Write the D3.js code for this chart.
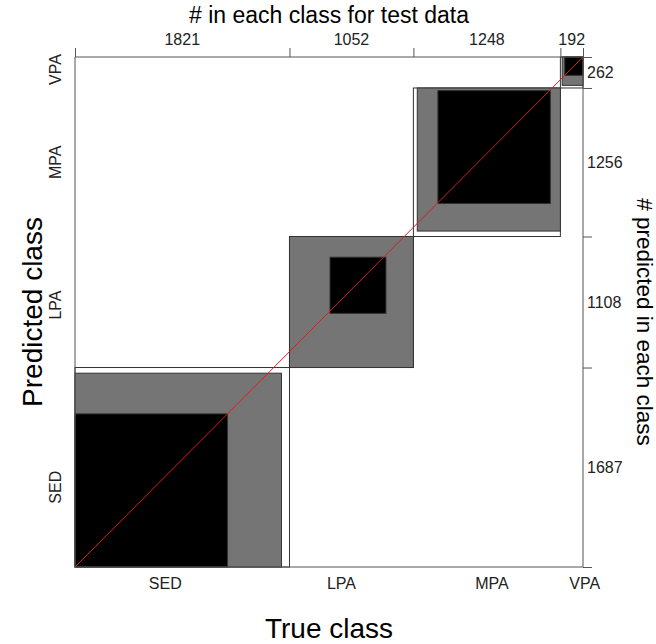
<!DOCTYPE html>
<html>
<head>
<meta charset="utf-8">
<script src="https://cdn.jsdelivr.net/npm/d3@7"></script>
<style>
  body { margin: 0; background: #fff; }
  svg { font-family: "Liberation Sans", Arial, sans-serif; }
</style>
</head>
<body>
<div id="chart"></div>
<script>
// classes, ordered SED -> VPA (left->right, bottom->top)
const classes = ['SED', 'LPA', 'MPA', 'VPA']

// confusion counts, rows = predicted class, cols = true class
const predSED = [1295, 344, 33, 15]
const predLPA = [458, 475, 175, 0]
const predMPA = [46, 233, 955, 22]
const predVPA = [22, 0, 85, 155]
const counts = [predSED, predLPA, predMPA, predVPA]

const colTotals = [1821, 1052, 1248, 192]   // # in each class for test data
const rowTotals = [1687, 1108, 1256, 262]   // # predicted in each class

// label nudges (px) to follow the original layout
const xLabelShift = [-17, -10, 5, 13]
const yLabelShift = [20, 3, 0, -3]

const width = 656, height = 644
const margin = {top: 57, right: 73, bottom: 77, left: 75}
const total = d3.sum(colTotals)

const svg = d3.select('#chart').append('svg')
  .attr('width', width).attr('height', height)

const x = d3.scaleLinear().domain([0, total]).range([margin.left, width - margin.right])
const y = d3.scaleLinear().domain([0, total]).range([height - margin.bottom, margin.top])

const colStart = [0, ...d3.cumsum(colTotals)]
const rowStart = [0, ...d3.cumsum(rowTotals)]

// build the rectangles of the agreement plot
const rects = []
classes.forEach((c, i) => {
  rects.push({x0: colStart[i], w: colTotals[i], y0: rowStart[i], h: rowTotals[i], fill: '#fff'})
  // partial agreement: neighbours one step away
  const lo = Math.max(0, i - 1), hi = Math.min(classes.length - 1, i + 1)
  let xs = 0, ys = 0, w = 0, h = 0
  for (let k = 0; k < lo; k++) { xs += counts[k][i]; ys += counts[i][k] }
  for (let k = lo; k <= hi; k++) { w += counts[k][i]; h += counts[i][k] }
  rects.push({x0: colStart[i] + xs, w: w, y0: rowStart[i] + ys, h: h, fill: '#757575'})
  // exact agreement
  let xe = 0, ye = 0
  for (let k = 0; k < i; k++) { xe += counts[k][i]; ye += counts[i][k] }
  rects.push({x0: colStart[i] + xe, w: counts[i][i], y0: rowStart[i] + ye, h: counts[i][i], fill: '#000'})
})

svg.append('g').selectAll('rect')
  .data(rects)
  .join('rect')
  .attr('x', d => x(d.x0))
  .attr('y', d => y(d.y0 + d.h))
  .attr('width', d => x(d.x0 + d.w) - x(d.x0))
  .attr('height', d => y(d.y0) - y(d.y0 + d.h))
  .attr('fill', d => d.fill)
  .attr('stroke', '#333')
  .attr('stroke-width', 1)

// diagonal
svg.append('line')
  .attr('x1', x(0)).attr('y1', y(0))
  .attr('x2', x(total)).attr('y2', y(total))
  .attr('stroke', '#dd1c1c').attr('stroke-width', 1)

// frame
const axisCol = '#555'
const frame = svg.append('g').attr('stroke', axisCol).attr('stroke-width', 1).attr('fill', 'none')
frame.append('line').attr('x1', x(0)).attr('x2', x(total)).attr('y1', y(0)).attr('y2', y(0))
frame.append('line').attr('x1', x(0)).attr('x2', x(total)).attr('y1', y(total)).attr('y2', y(total))
frame.append('line').attr('x1', x(0)).attr('x2', x(0)).attr('y1', y(0)).attr('y2', y(total))
frame.append('line').attr('x1', x(total)).attr('x2', x(total)).attr('y1', y(0)).attr('y2', y(total))

// top axis: column totals
const topAxis = d3.axisTop(x).tickValues(colStart).tickSize(9).tickFormat('')
svg.append('g').attr('transform', `translate(0,${y(total)})`).call(topAxis)
  .call(g => g.select('.domain').remove())
  .call(g => g.selectAll('line').attr('stroke', axisCol))

svg.append('g').selectAll('text')
  .data(colTotals)
  .join('text')
  .attr('x', (d, i) => x(colStart[i] + d / 2))
  .attr('y', y(total) - 12)
  .attr('text-anchor', 'middle')
  .attr('font-size', 16)
  .attr('fill', '#222')
  .text(d => d)

// right axis: row totals
const rightAxis = d3.axisRight(y).tickValues(rowStart).tickSize(9).tickFormat('')
svg.append('g').attr('transform', `translate(${x(total)},0)`).call(rightAxis)
  .call(g => g.select('.domain').remove())
  .call(g => g.selectAll('line').attr('stroke', axisCol))

svg.append('g').selectAll('text')
  .data(rowTotals)
  .join('text')
  .attr('x', x(total) + 4)
  .attr('y', (d, i) => y(rowStart[i] + d / 2))
  .attr('dy', '0.35em')
  .attr('font-size', 16)
  .attr('fill', '#222')
  .text(d => d)

// class labels
svg.append('g').selectAll('text')
  .data(classes)
  .join('text')
  .attr('x', (d, i) => x(colStart[i] + colTotals[i] / 2) + xLabelShift[i])
  .attr('y', y(0) + 22)
  .attr('text-anchor', 'middle')
  .attr('font-size', 16)
  .attr('fill', '#222')
  .text(d => d)

svg.append('g').selectAll('text')
  .data(classes)
  .join('text')
  .attr('transform', (d, i) => `translate(${x(0) - 14},${y(rowStart[i] + rowTotals[i] / 2) + yLabelShift[i]}) rotate(-90)`)
  .attr('text-anchor', 'middle')
  .attr('font-size', 16)
  .attr('fill', '#222')
  .text(d => d)

// titles
svg.append('text')
  .attr('x', (x(0) + x(total)) / 2).attr('y', 23)
  .attr('text-anchor', 'middle').attr('font-size', 23)
  .text('# in each class for test data')

svg.append('text')
  .attr('x', (x(0) + x(total)) / 2).attr('y', 638)
  .attr('text-anchor', 'middle').attr('font-size', 28)
  .text('True class')

svg.append('text')
  .attr('transform', `translate(42,${(y(0) + y(total)) / 2}) rotate(-90)`)
  .attr('text-anchor', 'middle').attr('font-size', 28)
  .text('Predicted class')

svg.append('text')
  .attr('transform', `translate(637,${(y(0) + y(total)) / 2 + 10}) rotate(90)`)
  .attr('text-anchor', 'middle').attr('font-size', 22.5)
  .text('# predicted in each class')
</script>
</body>
</html>
